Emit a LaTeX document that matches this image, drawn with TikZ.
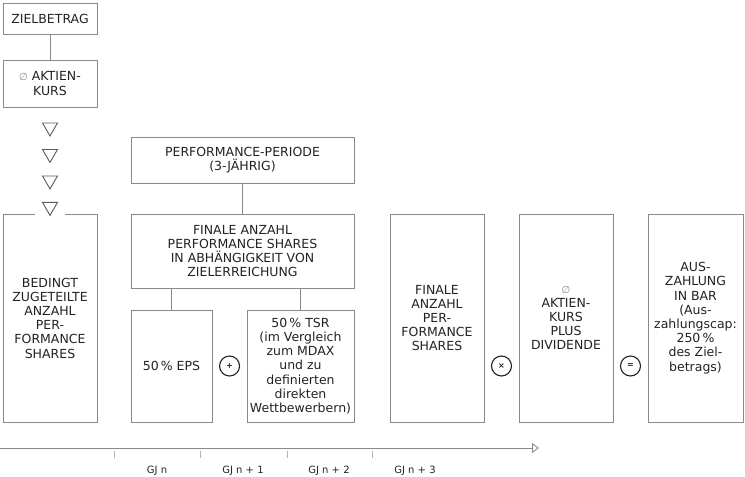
\documentclass[tikz,border=0pt]{standalone}
\usepackage{fontspec}
\setmainfont{DejaVu Sans}
\usepackage{tikz}
\usetikzlibrary{positioning, calc, shapes.geometric, arrows.meta}
\definecolor{framegrey}{HTML}{8A8A8A}
\definecolor{markgrey}{HTML}{5A5A5A}
\definecolor{textgrey}{HTML}{222222}
\definecolor{tickgrey}{HTML}{B4B4B4}
\newcommand{\schnitt}{{\fontsize{10}{10}\selectfont\textcolor{framegrey}{∅}}}
\tikzset{plan box/.style={
        draw=framegrey, line width=0.9pt, text=textgrey,
        minimum width=#1, align=center, inner sep=2pt,
        outer sep=0pt, % so the links start right on the border
        font=\fontsize{12.5}{14.2}\selectfont,
    },
    plan box/.default=94pt,
    link/.style={
        draw=framegrey, line width=0.9pt
    },
    down mark/.style={
        regular polygon, regular polygon sides=3, shape border rotate=180,
        draw=markgrey, fill=white, line width=0.9pt,
        minimum size=17.3pt, inner sep=0pt, outer sep=0pt
    },
    operator/.style={
        circle, draw=textgrey, line width=1.1pt, text=textgrey,
        minimum size=20pt, inner sep=0pt,
        font=\bfseries\fontsize{8}{8}\selectfont
    },
    timeline/.style={
        draw=framegrey, line width=0.9pt, -{Triangle[open, length=7pt, width=10pt]}
    },
    year tick/.style={
        draw=tickgrey, line width=0.7pt
    },
    year/.style={
        font=\fontsize{10}{12}\selectfont, text=textgrey
    },
}
\begin{document}
\begin{tikzpicture}[x=1pt, y=-1pt]
    \useasboundingbox (0,0) rectangle (745,477);

    %% left column
    \node [plan box, minimum height=31, anchor=north west] (ZB) at (3,3) {ZIELBETRAG};
    \node [plan box, minimum height=47, below=26pt of ZB] (AK) {\schnitt\ AKTIEN-\\KURS};
    \node [down mark, below=16pt of AK] (D1) {};
    \node [down mark, below=13.5pt of D1] (D2) {};
    \node [down mark, below=13.5pt of D2] (D3) {};
    \node [plan box, draw=none, minimum height=208, anchor=north west] (PS) at (3,214) {BEDINGT\\ZUGETEILTE\\ANZAHL\\PER-\\FORMANCE\\SHARES};
    %% border left open under the last mark
    \draw [link] ([xshift=-15pt]PS.north) -- (PS.north west) -- (PS.south west) -- (PS.south east) -- (PS.north east) -- ([xshift=15pt]PS.north);
    \node [down mark, below=13.5pt of D3] (D4) {};
    \draw [link] (ZB) -- (AK);

    %% performance period
    \node [plan box=223, minimum height=46, anchor=north west] (PP) at (131,137) {PERFORMANCE-PERIODE\\(3-JÄHRIG)};
    \node [plan box=223, minimum height=74, below=31pt of PP] (FA) {FINALE ANZAHL\\PERFORMANCE SHARES\\IN ABHÄNGIGKEIT VON\\ZIELERREICHUNG};
    \node [plan box=81, minimum height=112, below right=22pt and 0pt of FA.south west] (EPS) {50\,\% EPS};
    \node [plan box=107, minimum height=112, below left=22pt and 0pt of FA.south east] (TSR) {50\,\% TSR\\(im Vergleich\\zum MDAX\\und zu\\definierten\\direkten\\Wettbewerbern)};
    \node [operator, right=7pt of EPS] (PLUS) {+};
    \draw [link] (PP) -- (FA);
    \draw [link] (EPS.north) -- (EPS.north |- FA.south);
    \draw [link] (TSR.north) -- (TSR.north |- FA.south);

    %% payout
    \node [plan box, minimum height=208, below right=0pt and 36pt of FA.north east] (FS) {FINALE\\ANZAHL\\PER-\\FORMANCE\\SHARES};
    \node [plan box, minimum height=208, right=35pt of FS] (KD) {\schnitt\\AKTIEN-\\KURS\\PLUS\\DIVIDENDE};
    \node [plan box=95, minimum height=208, right=35pt of KD] (AB) {AUS-\\ZAHLUNG\\IN BAR\\(Aus-\\zahlungscap:\\250\,\%\\des Ziel-\\betrags)};
    \node [operator] (TIMES) at ($(FS.east |- PLUS)!0.5!(KD.west |- PLUS)$) {×};
    \node [operator] (EQ) at ($(KD.east |- PLUS)!0.5!(AB.west |- PLUS)$) {=};

    %% years
    \coordinate (T0) at (0,448);
    \coordinate (T1) at (539,448);
    \draw [timeline] (T0) -- (T1);
    \draw [year tick] (114,451) -- ++(0,7);
    \draw [year tick] (200,451) -- ++(0,7);
    \draw [year tick] (287,451) -- ++(0,7);
    \draw [year tick] (372,451) -- ++(0,7);
    \node [year] (GJ0) at (157,471) {GJ n};
    \node [year] (GJ1) at (243,471) {GJ n + 1};
    \node [year] (GJ2) at (329,471) {GJ n + 2};
    \node [year] (GJ3) at (415,471) {GJ n + 3};

\end{tikzpicture}
\end{document}
